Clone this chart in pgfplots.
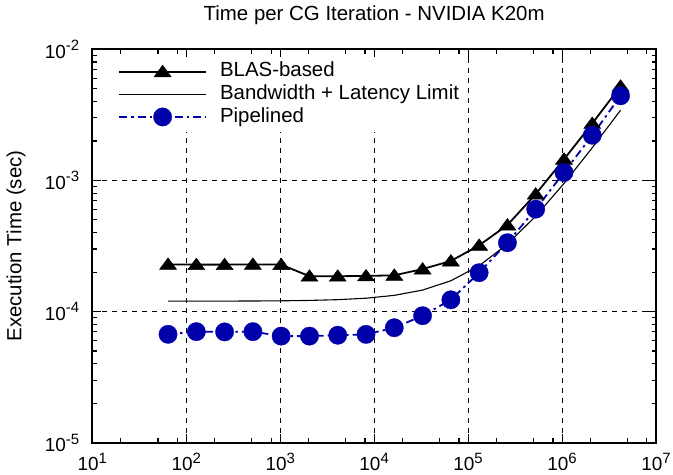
\documentclass[border=0pt]{standalone}
\usepackage{fontspec}
\setmainfont{Liberation Sans}
\usepackage{pgfplots}
\pgfplotsset{compat=1.18}
\definecolor{pblue}{RGB}{0,0,170}
\newcommand{\tsup}[1]{\raisebox{7.5bp}{\fontsize{15}{15}\selectfont #1}}
\pgfdeclareplotmark{gtri}{%
  \pgfpathmoveto{\pgfqpoint{0bp}{6.5bp}}%
  \pgfpathlineto{\pgfqpoint{-8.5bp}{-5bp}}%
  \pgfpathlineto{\pgfqpoint{8.5bp}{-5bp}}%
  \pgfpathclose
  \pgfusepathqfillstroke}
\begin{document}
\begin{tikzpicture}
\begin{axis}[
  xmode=log, ymode=log,
  scale only axis, width=563.7bp, height=393.4bp,
  xmin=10, xmax=1e7, ymin=1e-5, ymax=1e-2,
  axis line style={line width=1.8bp},
  every tick/.style={black, line width=1.1bp},
  major tick length=9bp, minor tick length=4.5bp,
  tick align=inside,
  xtick={1e1,1e2,1e3,1e4,1e5,1e6,1e7},
  xticklabels={10\tsup{1},10\tsup{2},10\tsup{3},10\tsup{4},10\tsup{5},10\tsup{6},10\tsup{7}},
  minor xtick={2e1,5e1,8e1,2e2,5e2,8e2,2e3,5e3,8e3,2e4,5e4,8e4,2e5,5e5,8e5,2e6,5e6,8e6},
  ytick={1e-5,1e-4,1e-3,1e-2},
  yticklabels={10\tsup{-5},10\tsup{-4},10\tsup{-3},10\tsup{-2}},
  xticklabel style={inner sep=0pt, yshift=-10bp, font=\fontsize{19}{22}\selectfont},
  yticklabel style={inner sep=0pt, xshift=-13bp, font=\fontsize{19}{22}\selectfont},
  xmajorgrids, ymajorgrids,
  major grid style={black, line width=0.9bp, dash pattern=on 5bp off 5bp},
  title={Time per CG Iteration - NVIDIA K20m},
  title style={at={(axis description cs:0.5,1)}, anchor=base, yshift=23.3bp, inner sep=0pt, font=\fontsize{20.5}{24}\selectfont},
  ylabel={Execution Time (sec)},
  ylabel style={at={(axis description cs:-0.1354,0.5)}, anchor=center, inner sep=0pt, font=\fontsize{20.5}{24}\selectfont},
  legend cell align=left,
  legend style={draw=none, fill=white, at={(axis description cs:0.035,0.9804)}, anchor=north west,
    inner xsep=6bp, inner ysep=5bp, row sep=3.5bp, column sep=13bp,
    font=\fontsize{20.5}{24}\selectfont,
    nodes={inner sep=0pt, text height=14.7bp, text depth=4.4bp}},
  legend image code/.code={\draw[mark repeat=2,mark phase=2,#1] plot coordinates {(0bp,0bp) (43.5bp,0bp) (87bp,0bp)};},
]
\addplot[black, line width=1.8bp, mark=gtri, mark options={solid, fill=black, line width=0.5bp}] coordinates {
(64,2.29e-4) (128,2.28e-4) (256,2.28e-4) (512,2.29e-4) (1024,2.28e-4)
(2048,1.86e-4) (4096,1.86e-4) (8192,1.87e-4) (16384,1.89e-4) (32768,2.11e-4)
(65536,2.43e-4) (131072,3.2e-4) (262144,4.57e-4) (524288,7.87e-4)
(1048576,1.45e-3) (2097152,2.72e-3) (4194304,5.23e-3)};
\addlegendentry{BLAS-based}
\addplot[black, line width=1.1bp, no marks] coordinates {
(64,1.2005e-4) (128,1.2010e-4) (256,1.2020e-4) (512,1.2040e-4) (1024,1.2081e-4)
(2048,1.2162e-4) (4096,1.2324e-4) (8192,1.2647e-4) (16384,1.3294e-4) (32768,1.4589e-4)
(65536,1.7177e-4) (131072,2.2355e-4) (262144,3.2709e-4) (524288,5.3419e-4)
(1048576,9.4838e-4) (2097152,1.77675e-3) (4194304,3.4335e-3)};
\addlegendentry{Bandwidth + Latency Limit}
\addplot[pblue, line width=1.8bp, dash pattern=on 8bp off 4bp on 2.5bp off 4bp, mark=*, mark size=9.2bp, mark options={solid, fill=pblue, draw=pblue, line width=0.3bp}] coordinates {
(64,6.71e-5) (128,7.03e-5) (256,7.0e-5) (512,7.03e-5) (1024,6.5e-5)
(2048,6.5e-5) (4096,6.6e-5) (8192,6.7e-5) (16384,7.53e-5) (32768,9.3e-5)
(65536,1.23e-4) (131072,1.98e-4) (262144,3.35e-4) (524288,6.04e-4)
(1048576,1.15e-3) (2097152,2.21e-3) (4194304,4.42e-3)};
\addlegendentry{Pipelined}
\end{axis}
\pgfresetboundingbox
\path[use as bounding box] ([shift={(-92.3bp,-32.3bp)}]current axis.south west) rectangle ++(673bp,475bp);
\end{tikzpicture}
\end{document}
